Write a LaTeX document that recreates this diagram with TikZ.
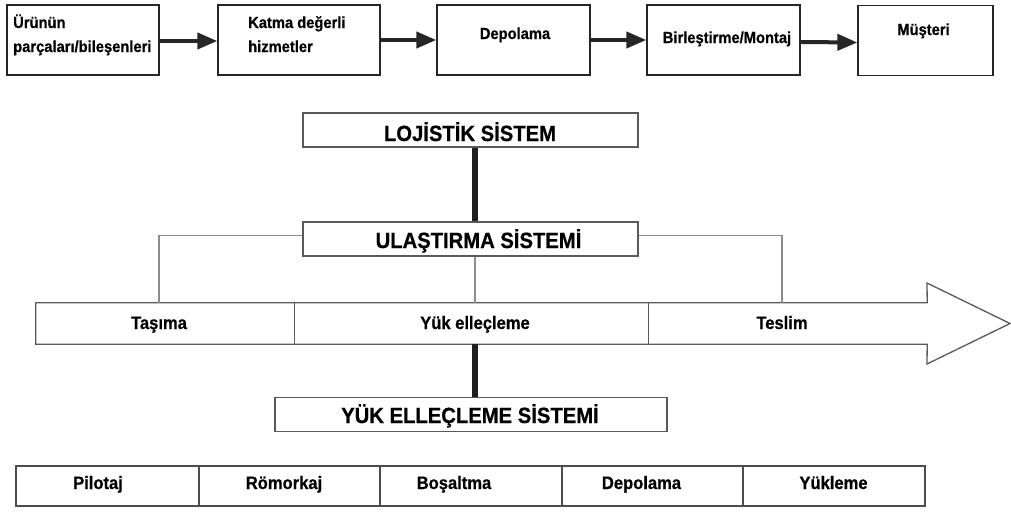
\documentclass[tikz,border=0pt]{standalone}
\usepackage{fontspec}
\setmainfont{Liberation Sans}[FakeStretch=0.92, BoldFeatures={FakeBold=0.6}]
\usetikzlibrary{arrows.meta}
\newcommand\topfont{\fontsize{16}{19}\selectfont\bfseries}
\newcommand\cellfont{\fontsize{18}{21}\selectfont\bfseries}
\newcommand\titlefont{\fontsize{22}{26}\selectfont\bfseries}
\begin{document}
\begin{tikzpicture}[x=1pt,y=-1pt,
  topbox/.style={draw=black!85, line width=1.3pt, minimum width=#1, minimum height=70pt, inner sep=0pt},
  sysbox/.style={draw=black!65, line width=1.3pt, minimum width=#1, minimum height=34pt, inner sep=0pt},
  rowcell/.style={draw=black!70, line width=1.3pt, minimum width=#1, minimum height=40pt, inner sep=0pt},
  flowcell/.style={minimum width=#1, minimum height=41pt, inner sep=0pt},
  outline/.style={draw=black!65, line width=1.3pt, line join=miter},
  flow/.style={draw=black!85, line width=4pt, -{Triangle[length=20pt,width=16pt]}},
  heavy/.style={draw=black!88, line width=5.5pt},
  branch/.style={draw=black!45, line width=1.1pt},
  toptxt/.style={inner sep=0pt, font=\topfont},
  celltxt/.style={inner sep=0pt, anchor=base, font=\cellfont},
  titletxt/.style={inner sep=0pt, anchor=base, font=\titlefont}]
\useasboundingbox[fill=white] (0,0) rectangle (1011,512);

% ---- supply chain row ----
\node[topbox=152pt] (b1) at (83,40) {};
\node[topbox=162pt] (b2) at (299,40) {};
\node[topbox=153pt] (b3) at (513.5,40) {};
\node[topbox=153pt] (b4) at (723.5,40) {};
\node[topbox=135pt] (b5) at (925.5,40.5) {};
\node[toptxt, anchor=base west] (t1a) at (13,28) {Ürünün};
\node[toptxt, anchor=base west] (t1b) at (13,52) {parçaları/bileşenleri};
\node[toptxt, anchor=base west] (t2a) at (248,28) {Katma değerli};
\node[toptxt, anchor=base west] (t2b) at (248,52) {hizmetler};
\node[toptxt, anchor=base] (t3) at (515,39) {Depolama};
\node[toptxt, anchor=base] (t4) at (727,43) {Birleştirme/Montaj};
\node[toptxt, anchor=base] (t5) at (923.5,35) {Müşteri};
\draw[flow] ([yshift=-1pt]b1.east) -- ([yshift=-1pt]b2.west);
\draw[flow] (b2.east) -- (b3.west);
\draw[flow] (b3.east) -- (b4.west);
\draw[flow] ([yshift=-2pt]b4.east) -- ([yshift=-2pt]b5.west);

% ---- system boxes ----
\node[sysbox=335pt] (loj) at (470.5,130) {};
\node[titletxt] (lojT) at (470,141) {LOJİSTİK SİSTEM};
\node[sysbox=335pt] (ulas) at (470.5,239) {};
\node[titletxt] (ulasT) at (478.5,248) {ULAŞTIRMA SİSTEMİ};

% ---- process arrow ----
\node[flowcell=258pt] (tasC) at (165,323.5) {};
\node[flowcell=354pt] (yukC) at (471,323.5) {};
\node[flowcell=279pt] (tesC) at (787.5,323.5) {};
\draw[outline] (tasC.north west) -- (tesC.north east) -- (927,283) -- (1010,323.5)
  -- (927,364) -- (tesC.south east) -- (tasC.south west) -- cycle;
\draw[outline] (tasC.north east) -- (tasC.south east);
\draw[outline] (yukC.north east) -- (yukC.south east);
\node[celltxt] (tasT) at (159,329) {Taşıma};
\node[celltxt] (yukT) at (475,329) {Yük elleçleme};
\node[celltxt] (tesT) at (782,329) {Teslim};

% ---- connectors ----
\draw[heavy] (loj.south -| yukT) -- (ulas.north -| yukT);
\draw[branch] ([yshift=3.5pt]ulas.west) -| (tasT |- tasC.north);
\draw[branch] ([yshift=3.5pt]ulas.east) -| (tesT |- tesC.north);
\draw[branch] (ulas.south -| yukT) -- (yukT |- yukC.north);

\node[sysbox=392pt] (ysys) at (471,414.5) {};
\node[titletxt] (ysysT) at (470,423) {YÜK ELLEÇLEME SİSTEMİ};
\draw[heavy] (yukT |- yukC.south) -- (yukT |- ysys.north);

% ---- handling operations row ----
\node[rowcell=183pt] (c1) at (107.5,486) {};
\node[rowcell=181pt] (c2) at (289.5,486) {};
\node[rowcell=182pt] (c3) at (471,486) {};
\node[rowcell=181pt] (c4) at (652.5,486) {};
\node[rowcell=182pt] (c5) at (834,486) {};
\node[celltxt] (c1T) at (98,489) {Pilotaj};
\node[celltxt] (c2T) at (284,489) {Römorkaj};
\node[celltxt] (c3T) at (454,489) {Boşaltma};
\node[celltxt] (c4T) at (641.5,489) {Depolama};
\node[celltxt] (c5T) at (833.5,489) {Yükleme};
\end{tikzpicture}
\end{document}
